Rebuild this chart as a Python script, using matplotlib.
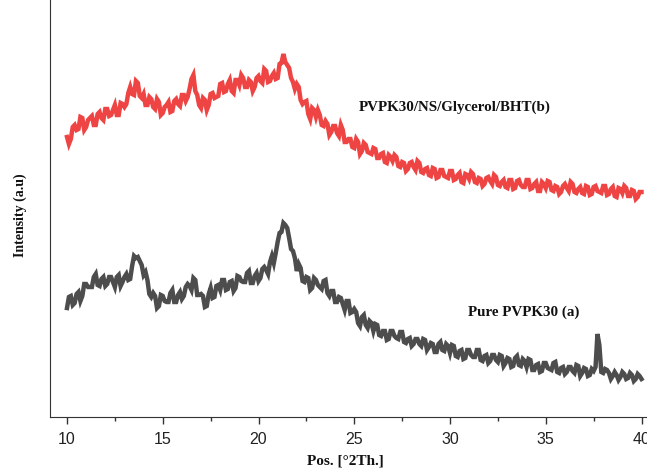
import numpy as np
import matplotlib
matplotlib.use("Agg")
import matplotlib.pyplot as plt
from matplotlib.ticker import MultipleLocator

# Pattern (b): PVPK30/NS/Glycerol/BHT, 0.1 deg steps from 10 to 40 (arbitrary units)
red = [280, 273, 278, 290, 292, 287, 288, 300, 299, 287,
       290, 297, 299, 301, 292, 292, 303, 305, 299, 297,
       308, 308, 301, 302, 307, 312, 302, 302, 314, 313,
       310, 313, 324, 330, 323, 322, 336, 334, 321, 319,
       323, 312, 312, 320, 318, 310, 308, 318, 315, 302,
       304, 310, 312, 315, 305, 306, 316, 318, 313, 311,
       322, 322, 316, 320, 328, 338, 342, 326, 322, 312,
       309, 319, 317, 307, 312, 323, 324, 319, 320, 321,
       333, 334, 325, 326, 333, 337, 326, 324, 337, 337,
       332, 342, 339, 330, 330, 337, 335, 326, 330, 339,
       341, 336, 334, 348, 346, 335, 336, 341, 344, 338,
       339, 353, 354, 363, 355, 352, 349, 339, 335, 328,
       333, 330, 317, 313, 315, 316, 303, 298, 309, 307,
       300, 307, 302, 292, 291, 296, 293, 282, 285, 291,
       291, 284, 281, 292, 287, 275, 275, 278, 278, 270,
       269, 278, 275, 263, 266, 274, 272, 265, 264, 263,
       269, 268, 259, 259, 263, 264, 255, 254, 262, 260,
       256, 262, 260, 251, 250, 255, 254, 246, 248, 254,
       255, 250, 247, 256, 254, 245, 244, 248, 249, 242,
       241, 249, 248, 239, 240, 247, 247, 241, 240, 239,
       246, 246, 237, 238, 242, 244, 235, 234, 243, 242,
       238, 245, 243, 235, 234, 239, 238, 231, 233, 239,
       240, 236, 233, 242, 240, 232, 231, 235, 237, 230,
       229, 237, 237, 228, 229, 236, 237, 232, 230, 230,
       237, 237, 228, 229, 233, 235, 226, 226, 235, 233,
       229, 236, 235, 227, 226, 231, 230, 223, 225, 231,
       233, 229, 226, 235, 233, 225, 224, 228, 230, 224,
       223, 231, 230, 222, 223, 230, 231, 226, 225, 224,
       231, 231, 222, 223, 228, 230, 221, 220, 229, 228,
       224, 231, 229, 221, 221, 227, 226, 218, 220, 225,
       225]

# Pattern (a): Pure PVPK30
gray = [109, 120, 121, 112, 114, 123, 125, 116, 121, 133,
        133, 130, 130, 130, 140, 143, 132, 131, 138, 140,
        131, 133, 140, 140, 135, 130, 140, 142, 131, 135,
        140, 143, 137, 138, 151, 161, 159, 160, 156, 152,
        142, 145, 137, 123, 120, 124, 121, 109, 111, 122,
        121, 116, 115, 115, 124, 127, 115, 115, 122, 125,
        118, 121, 130, 133, 131, 127, 139, 137, 122, 122,
        123, 121, 110, 111, 123, 129, 119, 120, 131, 132,
        127, 137, 137, 127, 128, 135, 136, 126, 129, 141,
        140, 136, 135, 135, 144, 146, 134, 134, 141, 144,
        136, 139, 148, 150, 147, 143, 155, 161, 154, 164,
        175, 184, 185, 194, 192, 189, 179, 168, 166, 159,
        146, 153, 149, 136, 135, 140, 139, 127, 129, 139,
        137, 132, 130, 128, 136, 137, 124, 121, 126, 126,
        115, 115, 120, 119, 113, 107, 116, 116, 104, 105,
        108, 105, 94, 91, 100, 102, 92, 89, 96, 94,
        86, 93, 92, 82, 81, 86, 86, 77, 78, 86,
        86, 81, 79, 78, 85, 85, 75, 74, 78, 79,
        71, 73, 78, 78, 73, 71, 78, 77, 67, 70,
        74, 73, 65, 65, 73, 75, 67, 66, 73, 71,
        64, 72, 71, 61, 60, 66, 67, 58, 59, 67,
        67, 62, 60, 60, 67, 67, 57, 56, 61, 62,
        54, 56, 62, 62, 57, 55, 62, 61, 51, 54,
        59, 58, 50, 51, 59, 61, 52, 51, 58, 56,
        50, 58, 57, 47, 47, 52, 53, 45, 46, 54,
        54, 49, 48, 47, 54, 55, 45, 44, 49, 50,
        43, 45, 50, 50, 46, 44, 52, 51, 41, 44,
        49, 48, 41, 42, 48, 46, 50, 83, 72, 45,
        44, 48, 47, 44, 38, 41, 45, 42, 37, 40,
        45, 43, 38, 39, 44, 42, 36, 38, 43, 41,
        38]

x_red = np.linspace(10, 40, len(red))
x_gray = np.linspace(10, 40, len(gray))

label_b = "PVPK30/NS/Glycerol/BHT(b)"
label_a = "Pure PVPK30 (a)"
xticks = [10, 15, 20, 25, 30, 35, 40]

fig = plt.figure(figsize=(6.47, 4.69), dpi=100)
ax = fig.add_axes([50/647, 1 - 417/469, 597/647, 417/469])

ax.plot(x_red, red, color="#EF4444", lw=3.2, solid_joinstyle="miter")
ax.plot(x_gray, gray, color="#4D4D4D", lw=3.2, solid_joinstyle="miter")

ax.set_xlim(10 - 17/19.15, 10 + 580/19.15)
ax.set_ylim(0, 417)
ax.set_xticks(xticks)
ax.xaxis.set_minor_locator(MultipleLocator(2.5))
ax.set_yticks([])
ax.spines["top"].set_visible(False)
ax.spines["right"].set_visible(False)
ax.spines["left"].set_color("#333333")
ax.spines["bottom"].set_color("#333333")
ax.tick_params(axis="x", which="major", direction="out", length=5, width=1,
               color="#333333", pad=6)
ax.tick_params(axis="x", which="minor", direction="out", length=3, width=1,
               color="#333333")
for lab in ax.get_xticklabels():
    lab.set_fontfamily(["Liberation Sans Narrow", "Liberation Sans", "DejaVu Sans"])
    lab.set_fontsize(11.5)
    lab.set_color("#222222")

serif = ["Liberation Serif", "DejaVu Serif"]
ax.text(30.26, 417 - 107, label_b, fontsize=10.8, fontweight="bold", family=serif,
        ha="center", va="center", color="#111111")
ax.text(33.86, 417 - 312, label_a, fontsize=10.8, fontweight="bold", family=serif,
        ha="center", va="center", color="#111111")

fig.text(345/647, 1 - 461/469, "Pos. [°2Th.]", fontsize=11, fontweight="bold",
         family=serif, ha="center", va="center", color="#111111")
fig.text(20/647, 1 - 215/469, "Intensity (a.u)", fontsize=10, fontweight="bold",
         family=serif, ha="center", va="center", rotation=90, color="#111111")

fig.savefig("out.png", dpi=100)
